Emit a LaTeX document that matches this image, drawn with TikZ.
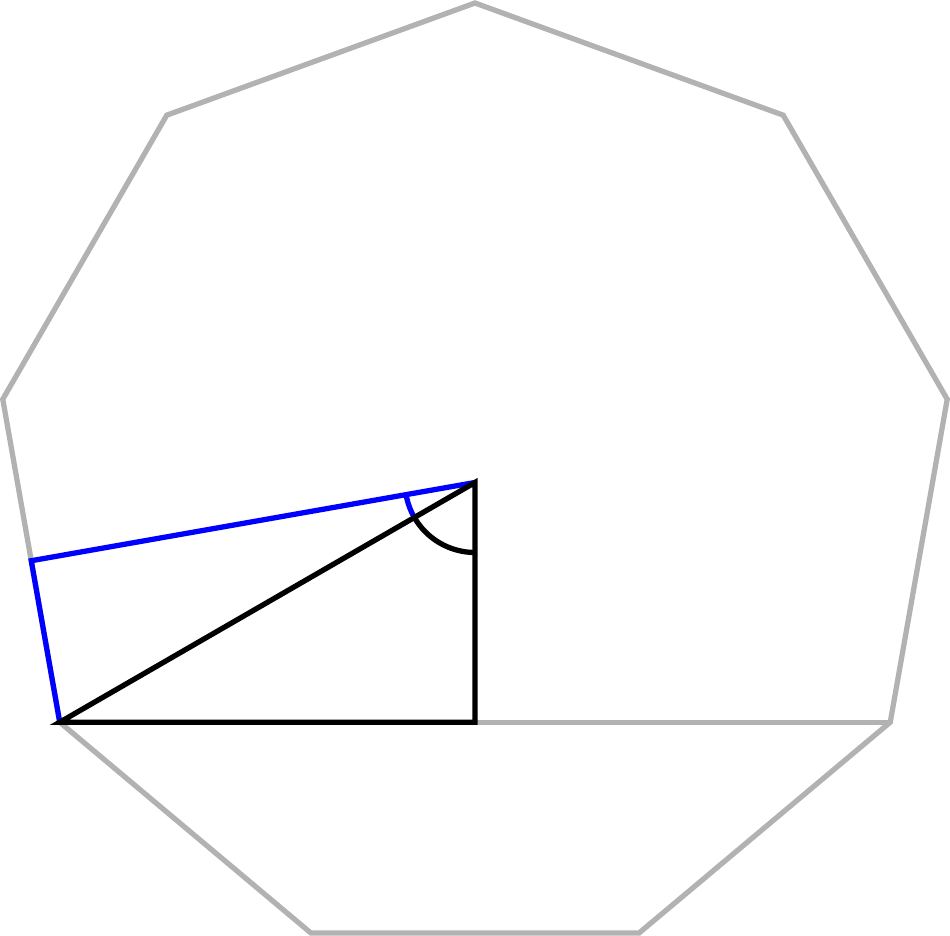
\documentclass[tikz,border=0pt]{standalone}
\usetikzlibrary{calc}
\begin{document}
\begin{tikzpicture}[x=0.01cm,y=0.01cm,
  polyline/.style={draw=gray!60,line width=1.5pt,line join=miter},
  triline/.style={draw=black,line width=1.5pt,line join=miter},
  blueline/.style={draw=blue,line width=1.5pt,line join=miter}]
\useasboundingbox (-475,-453.5) rectangle (475,482.5);
\def\R{479.5}
\coordinate (O) at (0,0);
\foreach \i in {0,...,8}{
  \coordinate (v\i) at ({90-40*\i}:\R);
}
\coordinate (M) at ($(v6)!0.5!(v7)$);
\coordinate (F) at (0,{-\R*0.5});
% nonagon
\draw[polyline] (v0) -- (v1) -- (v2) -- (v3) -- (v4) -- (v5) -- (v6) -- (v7) -- (v8) -- cycle;
\draw[polyline] (v6) -- (v3);
% blue
\draw[blueline] (O) -- (M) -- (v6);
\draw[blueline] (190:70) arc[start angle=190,end angle=210,radius=70];
% black triangle
\draw[triline] (O) -- (F) -- (v6) -- cycle;
\draw[triline] (210:70) arc[start angle=210,end angle=270,radius=70];
\end{tikzpicture}
\end{document}
